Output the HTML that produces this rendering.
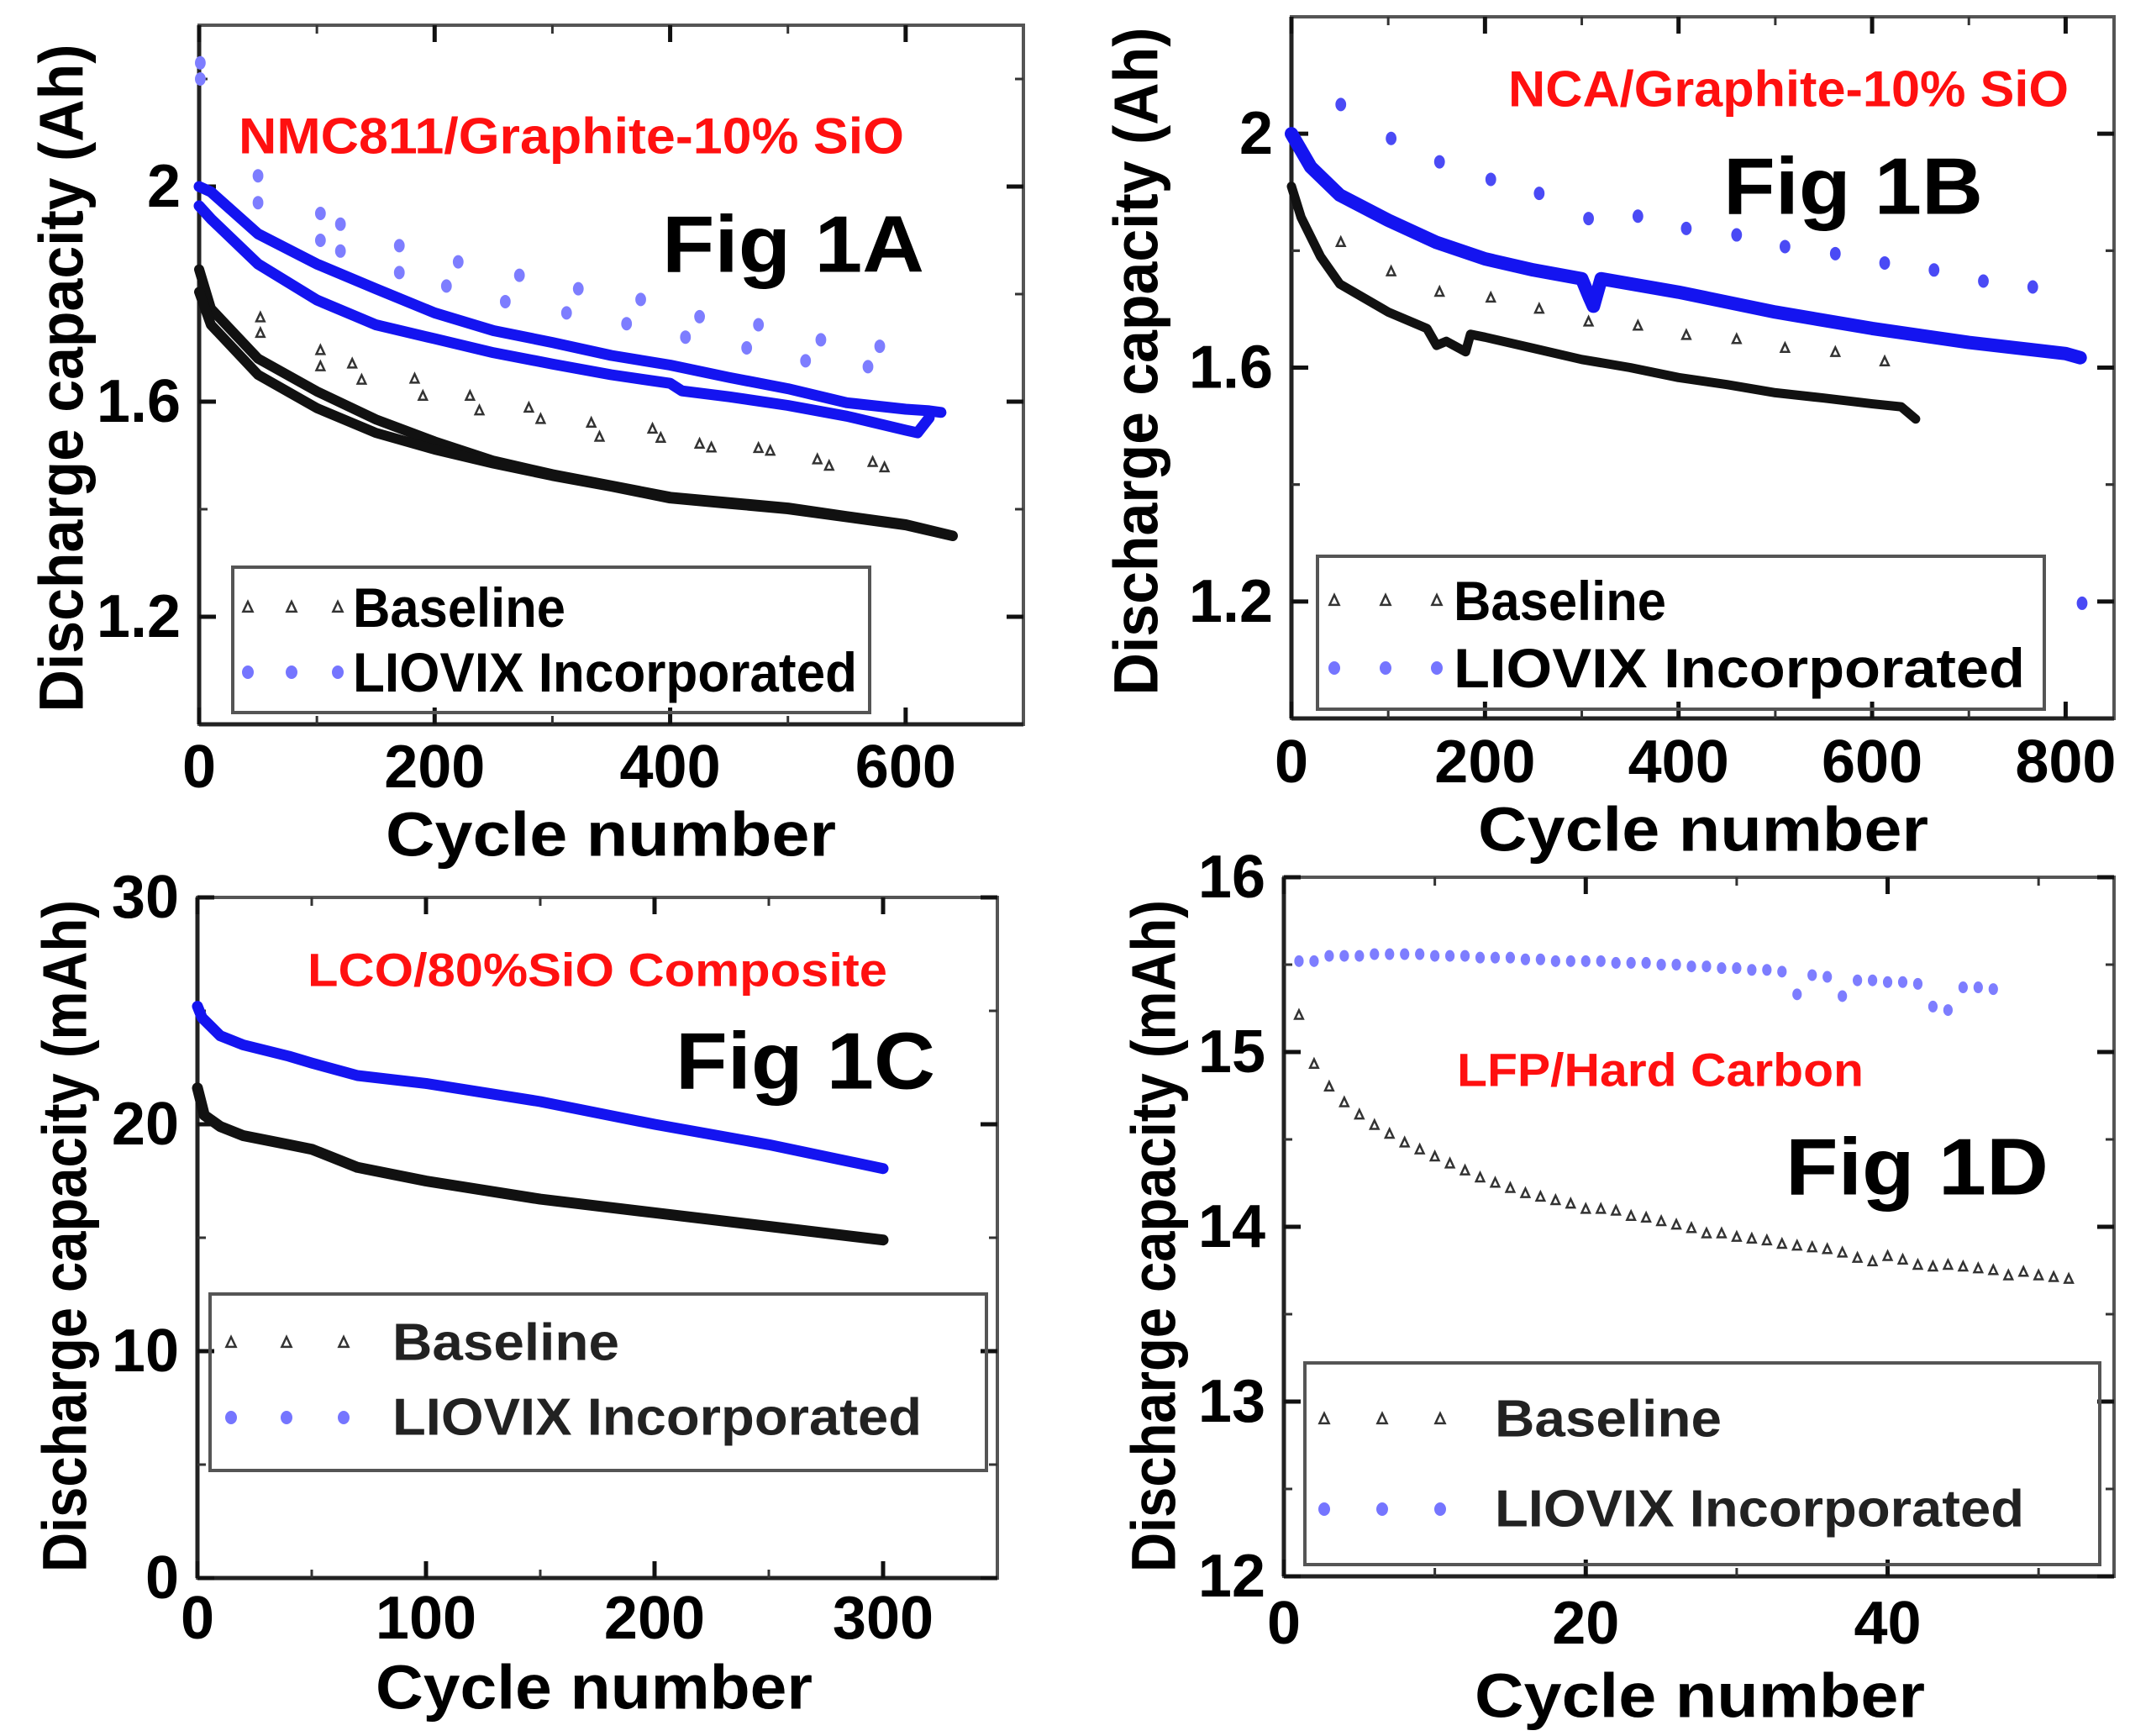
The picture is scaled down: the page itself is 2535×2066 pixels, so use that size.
<!DOCTYPE html>
<html><head><meta charset="utf-8">
<style>
html,body{margin:0;padding:0;background:#fff;}
svg{display:block;font-family:"Liberation Sans",Arial,sans-serif;}
</style></head>
<body>
<svg id="fig" width="2535" height="2066" viewBox="0 0 2535 2066" xmlns="http://www.w3.org/2000/svg"></svg>
<script>
// ---------- Panel A data (NMC811/Graphite-10% SiO) ----------
const aLineX = [0,10,50,100,150,200,250,300,350,400,450,500,550,600,620,630];
const aBlueUpper = [2.0,1.99,1.912,1.856,1.81,1.765,1.732,1.71,1.686,1.668,1.645,1.624,1.598,1.586,1.583,1.58];
const aBlueLowerX = [0,10,50,100,150,200,250,300,350,400,410,450,500,550,600,610,620];
const aBlueLower = [1.964,1.94,1.856,1.789,1.743,1.717,1.691,1.67,1.65,1.634,1.62,1.609,1.593,1.573,1.547,1.542,1.57];
const aBlackX = [0,10,50,100,150,200,250,300,350,400,450,500,550,600,640];
const aBlackUpper = [1.846,1.773,1.68,1.619,1.567,1.526,1.49,1.465,1.444,1.423,1.413,1.403,1.387,1.372,1.351];
const aBlackLower = [1.804,1.743,1.65,1.588,1.542,1.511,1.485,1.462,1.442,1.42,1.41,1.4,1.385,1.37,1.35];
const aCircX = [1,1,50,50,103,103,120,120,170,170,210,220,260,272,312,322,363,375,413,425,465,475,515,528,568,578];
const aCircY = [2.23,2.2,2.02,1.97,1.95,1.90,1.93,1.88,1.89,1.84,1.815,1.86,1.786,1.835,1.765,1.81,1.745,1.79,1.72,1.758,1.70,1.743,1.676,1.715,1.665,1.703];
const aTriX = [52,52,103,103,130,138,183,190,230,238,280,290,333,340,385,392,425,435,475,485,525,535,572,582];
const aTriY = [1.756,1.727,1.695,1.665,1.67,1.64,1.642,1.61,1.61,1.583,1.588,1.567,1.56,1.534,1.549,1.532,1.521,1.514,1.513,1.508,1.492,1.48,1.487,1.477];

// ---------- Panel B data (NCA/Graphite-10% SiO) ----------
const bBlueX = [0,20,50,100,150,200,250,300,308,312,320,400,500,600,700,800,815];
const bBlue = [2.0,1.943,1.895,1.852,1.814,1.786,1.767,1.752,1.72,1.705,1.752,1.729,1.695,1.667,1.643,1.624,1.617];
const bBlackX = [0,10,30,50,100,140,150,160,180,185,200,250,300,350,400,450,500,550,600,630,645];
const bBlack = [1.91,1.857,1.79,1.743,1.695,1.667,1.638,1.645,1.627,1.657,1.652,1.633,1.614,1.60,1.583,1.571,1.557,1.548,1.538,1.533,1.512];
const bCircX = [51,103,153,206,256,307,358,408,460,510,562,613,664,715,766,817];
const bCircY = [2.05,1.992,1.952,1.922,1.898,1.855,1.859,1.838,1.827,1.807,1.795,1.779,1.767,1.748,1.738,1.197];
const bTriX = [51,103,153,206,256,307,358,408,460,510,562,613];
const bTriY = [1.814,1.764,1.729,1.719,1.70,1.678,1.671,1.655,1.648,1.633,1.626,1.61];

// ---------- Panel C data (LCO/80%SiO Composite) ----------
const cBlueX = [0,2,10,20,40,50,70,100,150,200,250,300];
const cBlue = [25.2,24.7,23.9,23.5,23.0,22.7,22.15,21.8,21.0,20.0,19.1,18.05];
const cBlackX = [0,3,10,20,40,50,70,100,150,200,250,300];
const cBlack = [21.6,20.4,19.9,19.5,19.1,18.9,18.1,17.5,16.7,16.1,15.5,14.9];

// ---------- Panel D data (LFP/Hard Carbon) ----------
const dCircX = [1,2,3,4,5,6,7,8,9,10,11,12,13,14,15,16,17,18,19,20,21,22,23,24,25,26,27,28,29,30,31,32,33,34,35,36,37,38,39,40,41,42,43,44,45,46,47];
const dCircY = [15.52,15.52,15.55,15.55,15.55,15.56,15.56,15.56,15.56,15.55,15.55,15.55,15.54,15.54,15.54,15.53,15.53,15.52,15.52,15.52,15.52,15.51,15.51,15.51,15.50,15.50,15.49,15.49,15.48,15.48,15.47,15.47,15.46,15.33,15.44,15.43,15.32,15.41,15.41,15.40,15.40,15.39,15.26,15.24,15.37,15.37,15.36];
const dTriX = [1,2,3,4,5,6,7,8,9,10,11,12,13,14,15,16,17,18,19,20,21,22,23,24,25,26,27,28,29,30,31,32,33,34,35,36,37,38,39,40,41,42,43,44,45,46,47,48,49,50,51,52];
const dTriY = [15.21,14.93,14.80,14.71,14.64,14.58,14.53,14.48,14.44,14.40,14.36,14.32,14.28,14.25,14.22,14.19,14.17,14.15,14.13,14.10,14.10,14.09,14.06,14.05,14.03,14.01,13.99,13.96,13.96,13.94,13.93,13.92,13.90,13.89,13.88,13.87,13.85,13.82,13.80,13.83,13.81,13.78,13.77,13.78,13.77,13.76,13.75,13.72,13.74,13.72,13.71,13.70];

// ---------- tick labels ----------
const aXTicks = [0,200,400,600];
const aYTicks = [1.2,1.6,2.0];
const aYTickLabels = ["1.2","1.6","2"];
const bXTicks = [0,200,400,600,800];
const bYTicks = [1.2,1.6,2.0];
const bYTickLabels = ["1.2","1.6","2"];
const cXTicks = [0,100,200,300];
const cYTicks = [0,10,20,30];
const dXTicks = [0,20,40];
const dYTicks = [12,13,14,15,16];

const NS = "http://www.w3.org/2000/svg";
const svg = document.getElementById('fig');
function el(tag, attrs, parent){
  const e = document.createElementNS(NS, tag);
  for (const k in attrs) e.setAttribute(k, attrs[k]);
  (parent||svg).appendChild(e);
  return e;
}
function txt(str, attrs, parent){
  const t = el('text', attrs, parent);
  t.textContent = str;
  return t;
}

function panel(cfg){
  const g = el('g', {});
  
  
  const sx = v => cfg.L + (v - cfg.xmin) / (cfg.xmax - cfg.xmin) * (cfg.R - cfg.L);
  const sy = v => cfg.B - (v - cfg.ymin) / (cfg.ymax - cfg.ymin) * (cfg.B - cfg.T);
  const fr = el('rect', {x:cfg.L, y:cfg.T, width:cfg.R-cfg.L, height:cfg.B-cfg.T, fill:'none', stroke:'#555', 'stroke-width':4}, g);
  
  
  el('line', {x1:cfg.L, y1:cfg.T, x2:cfg.L, y2:cfg.B, stroke:'#222', 'stroke-width':5}, g);
  el('line', {x1:cfg.L, y1:cfg.B, x2:cfg.R, y2:cfg.B, stroke:'#222', 'stroke-width':5}, g);
  cfg.xt.forEach((v,i) => {
    const x = sx(v);
    el('line', {x1:x, y1:cfg.B, x2:x, y2:cfg.B-20, stroke:'#111', 'stroke-width':5}, g);
    el('line', {x1:x, y1:cfg.T, x2:x, y2:cfg.T+20, stroke:'#111', 'stroke-width':5}, g);
    const t = txt(String(v), {x:x, y:cfg.xtY, 'font-size':72, 'font-weight':'bold', 'text-anchor':'middle', 'dominant-baseline':'central', fill:'#000'}, g);
    
    
    const m = v + cfg.xstep/2;
    if (m < cfg.xmax) {
      const xm = sx(m);
      el('line', {x1:xm, y1:cfg.B, x2:xm, y2:cfg.B-10, stroke:'#333', 'stroke-width':3}, g);
      el('line', {x1:xm, y1:cfg.T, x2:xm, y2:cfg.T+10, stroke:'#333', 'stroke-width':3}, g);
    }
  });
  cfg.yt.forEach((v,i) => {
    const y = sy(v);
    el('line', {x1:cfg.L, y1:y, x2:cfg.L+20, y2:y, stroke:'#111', 'stroke-width':5}, g);
    el('line', {x1:cfg.R, y1:y, x2:cfg.R-20, y2:y, stroke:'#111', 'stroke-width':5}, g);
    const t = txt(cfg.ytl ? cfg.ytl[i] : String(v), {x:cfg.L-22, y:y, 'font-size':72, 'font-weight':'bold', 'text-anchor':'end', 'dominant-baseline':'central', fill:'#000'}, g);
    
    
    [v - cfg.ystep/2, v + cfg.ystep/2].forEach(m => {
      if (m > cfg.ymin && m < cfg.ymax) {
        const ym = sy(m);
        el('line', {x1:cfg.L, y1:ym, x2:cfg.L+10, y2:ym, stroke:'#333', 'stroke-width':3}, g);
        el('line', {x1:cfg.R, y1:ym, x2:cfg.R-10, y2:ym, stroke:'#333', 'stroke-width':3}, g);
      }
    });
  });
  const xtt = txt('Cycle number', {x:cfg.xTitleX, y:cfg.xTitleY, 'font-size':74, 'font-weight':'bold', 'text-anchor':'middle', 'dominant-baseline':'central', textLength:cfg.xTitleW, lengthAdjust:'spacingAndGlyphs', fill:'#000'}, g);
  
  
  const ytt = txt(cfg.ytitle, {x:0, y:0, transform:`translate(${cfg.yTitleX},${cfg.yTitleY}) rotate(-90)`, 'font-size':74, 'font-weight':'bold', 'text-anchor':'middle', 'dominant-baseline':'central', textLength:cfg.yTitleW, lengthAdjust:'spacingAndGlyphs', fill:'#000'}, g);
  
  
  cfg.lines.forEach(ln => {
    const pts = ln.x.map((v,i) => sx(v).toFixed(1)+','+sy(ln.y[i]).toFixed(1)).join(' ');
    const p = el('polyline', {points:pts, fill:'none', stroke:ln.color, 'stroke-width':ln.w, 'stroke-linejoin':'round', 'stroke-linecap':'round'}, g);
    
    
  });
  (cfg.circles||[]).forEach(cs => {
    cs.x.forEach((v,i) => {
      const c = el('ellipse', {cx:sx(v), cy:sy(cs.y[i]), rx:cs.r*0.8, ry:cs.r, fill:cs.color}, g);
      
      
    });
  });
  (cfg.tris||[]).forEach(ts => {
    ts.x.forEach((v,i) => {
      const x = sx(v), y = sy(ts.y[i]), s = ts.s;
      const t = el('polygon', {points:`${x},${y-s} ${x-s*0.8},${y+s*0.7} ${x+s*0.8},${y+s*0.7}`, fill:'none', stroke:'#333', 'stroke-width':2.5}, g);
      
      
    });
  });
  const lg = el('g', {}, g);
  
  
  const L = cfg.leg;
  el('rect', {x:L.x1, y:L.y1, width:L.x2-L.x1, height:L.y2-L.y1, fill:'none', stroke:'#555', 'stroke-width':4}, lg);
  L.mx.forEach(x => {
    const s = 7;
    el('polygon', {points:`${x},${L.by-s} ${x-s*0.8},${L.by+s*0.7} ${x+s*0.8},${L.by+s*0.7}`, fill:'none', stroke:'#333', 'stroke-width':2.5}, lg);
    el('ellipse', {cx:x, cy:L.ly, rx:7, ry:8, fill:L.cc}, lg);
  });
  const t1 = txt('Baseline', {x:L.tx, y:L.by, 'font-size':L.fs, 'font-weight':'bold', 'dominant-baseline':'central', textLength:L.w1, lengthAdjust:'spacingAndGlyphs', fill:L.tc}, lg);
  
  
  const t2 = txt('LIOVIX Incorporated', {x:L.tx, y:L.ly, 'font-size':L.fs, 'font-weight':'bold', 'dominant-baseline':'central', textLength:L.w2, lengthAdjust:'spacingAndGlyphs', fill:L.tc}, lg);
  
  
  const r = txt(cfg.red.t, {x:cfg.red.x, y:cfg.red.y, 'font-size':cfg.red.fs, 'font-weight':'bold', 'dominant-baseline':'central', textLength:cfg.red.w, lengthAdjust:'spacingAndGlyphs', fill:'#ff1010'}, g);
  
  
  const f = txt(cfg.fig.t, {x:cfg.fig.x, y:cfg.fig.y, 'font-size':96, 'font-weight':'bold', 'dominant-baseline':'central', textLength:cfg.fig.w, lengthAdjust:'spacingAndGlyphs', fill:'#000'}, g);
  
  
}

const BLUE = '#1414f0', BLACK = '#111';

panel({name:'panel-1a', L:237, R:1218, T:30, B:862, xmin:0, xmax:700, ymin:1.0, ymax:2.3, xt:aXTicks, xstep:200, yt:aYTicks, ytl:aYTickLabels, ystep:0.4,
  xtY:913, xTitleX:727, xTitleY:993, xTitleW:536, yTitleX:73, yTitleY:450, yTitleW:795, ytitle:'Discharge capacity (Ah)',
  lines:[{x:aLineX, y:aBlueUpper, color:BLUE, w:13, name:'liovix-line-1'},{x:aBlueLowerX, y:aBlueLower, color:BLUE, w:13, name:'liovix-line-2'},
         {x:aBlackX, y:aBlackUpper, color:BLACK, w:12, name:'baseline-line-1'},{x:aBlackX, y:aBlackLower, color:BLACK, w:12, name:'baseline-line-2'}],
  circles:[{x:aCircX, y:aCircY, r:8, color:'#7d7dff'}], tris:[{x:aTriX, y:aTriY, s:6}],
  leg:{x1:277, y1:675, x2:1035, y2:848, mx:[295,347,402], by:723, ly:800, tx:420, fs:66, w1:253, w2:600, cc:'#7575ff', tc:'#000'},
  red:{t:'NMC811/Graphite-10% SiO', x:284, y:162, fs:60, w:792}, fig:{t:'Fig 1A', x:788, y:291, w:312}});

panel({name:'panel-1b', L:1537, R:2516, T:20, B:855, xmin:0, xmax:850, ymin:1.0, ymax:2.2, xt:bXTicks, xstep:200, yt:bYTicks, ytl:bYTickLabels, ystep:0.4,
  xtY:907, xTitleX:2027, xTitleY:987, xTitleW:536, yTitleX:1352, yTitleY:430, yTitleW:795, ytitle:'Discharge capacity (Ah)',
  lines:[{x:bBlueX, y:bBlue, color:BLUE, w:16, name:'liovix-line'},{x:bBlackX, y:bBlack, color:BLACK, w:11, name:'baseline-line'}],
  circles:[{x:bCircX, y:bCircY, r:8, color:'#4a4af5'}], tris:[{x:bTriX, y:bTriY, s:6}],
  leg:{x1:1568, y1:662, x2:2433, y2:844, mx:[1588,1649,1710], by:715, ly:795, tx:1730, fs:66, w1:253, w2:680, cc:'#7575ff', tc:'#000'},
  red:{t:'NCA/Graphite-10% SiO', x:1795, y:106, fs:60, w:667}, fig:{t:'Fig 1B', x:2051, y:222, w:309}});

panel({name:'panel-1c', L:235, R:1187, T:1068, B:1878, xmin:0, xmax:350, ymin:0, ymax:30, xt:cXTicks, xstep:100, yt:cYTicks, ystep:10,
  xtY:1926, xTitleX:707, xTitleY:2008, xTitleW:520, yTitleX:77, yTitleY:1471, yTitleW:800, ytitle:'Discharge capacity (mAh)',
  lines:[{x:cBlueX, y:cBlue, color:BLUE, w:13, name:'liovix-line'},{x:cBlackX, y:cBlack, color:BLACK, w:13, name:'baseline-line'}],
  circles:[], tris:[],
  leg:{x1:250, y1:1540, x2:1174, y2:1750, mx:[275,341,409], by:1598, ly:1687, tx:467, fs:62, w1:270, w2:630, cc:'#7575ff', tc:'#222'},
  red:{t:'LCO/80%SiO Composite', x:366, y:1154, fs:56, w:690}, fig:{t:'Fig 1C', x:804, y:1263, w:309}});

panel({name:'panel-1d', L:1528, R:2516, T:1044, B:1876, xmin:0, xmax:55, ymin:12, ymax:16, xt:dXTicks, xstep:20, yt:dYTicks, ystep:1,
  xtY:1932, xTitleX:2023, xTitleY:2018, xTitleW:536, yTitleX:1373, yTitleY:1471, yTitleW:800, ytitle:'Discharge capacity (mAh)',
  lines:[],
  circles:[{x:dCircX, y:dCircY, r:7, color:'#7d7dff'}], tris:[{x:dTriX, y:dTriY, s:6}],
  leg:{x1:1553, y1:1622, x2:2499, y2:1862, mx:[1576,1645,1714], by:1689, ly:1796, tx:1779, fs:62, w1:270, w2:630, cc:'#7575ff', tc:'#222'},
  red:{t:'LFP/Hard Carbon', x:1734, y:1273, fs:56, w:484}, fig:{t:'Fig 1D', x:2125, y:1389, w:313}});
</script>
</body></html>
